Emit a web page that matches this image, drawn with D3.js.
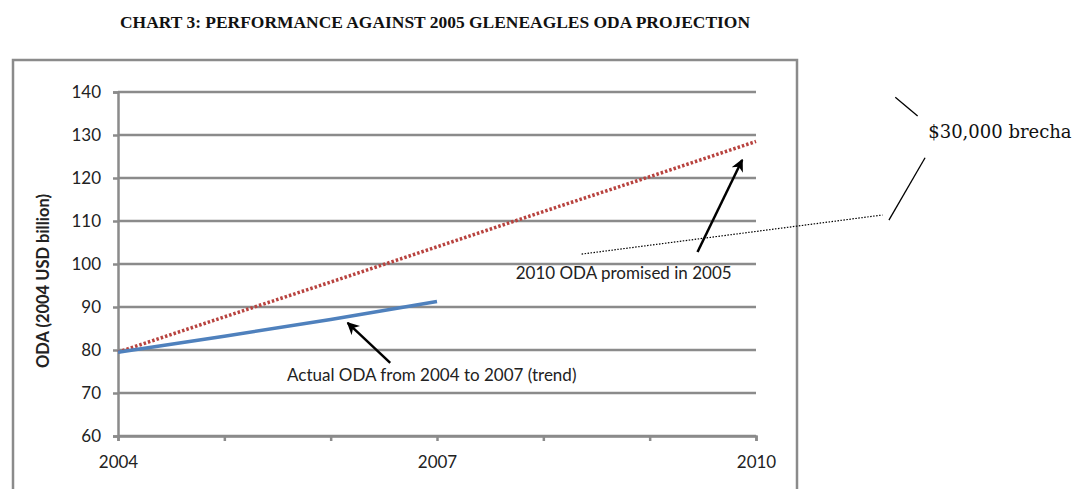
<!DOCTYPE html>
<html>
<head>
<meta charset="utf-8">
<script src="https://cdn.jsdelivr.net/npm/d3@7"></script>
<style>
  body { margin: 0; background: #fff; }
  svg { display: block; }
</style>
</head>
<body>
<svg id="chart" width="1084" height="489"></svg>
<script>
// chart data
const years = [2004, 2005, 2006, 2007, 2008, 2009, 2010];
const actualYears = [2004, 2005, 2006, 2007];
const actualOda = [79.5, 83.2, 87.1, 91.3];
const promisedOda = [79.5, 87.7, 95.8, 104.0, 112.2, 120.3, 128.5];
const yTicks = [60, 70, 80, 90, 100, 110, 120, 130, 140];
const xLabels = [2004, 2007, 2010];

const title = "CHART 3: PERFORMANCE AGAINST 2005 GLENEAGLES ODA PROJECTION";
const yTitle = "ODA (2004 USD billion)";

// annotation positions in data units (year, ODA)
const notes = [
  { text: "Actual ODA from 2004 to 2007 (trend)", x: 2005.59, y: 72.7 },
  { text: "2010 ODA promised in 2005", x: 2007.74, y: 96.6 }
];
const arrows = [
  [[2006.56, 77.0], [2006.16, 86.3]],
  [[2009.45, 102.8], [2009.87, 124.2]]
];
const gapLine = [[2008.36, 102.3], [2011.19, 111.4]];
const braces = [
  [[2011.31, 138.8], [2011.52, 134.4]],
  [[2011.59, 124.7], [2011.25, 110.2]]
];
const gapLabel = { text: "$30,000 brecha", x: 2011.62, y: 129.6 };

const svg = d3.select("#chart");

const x = d3.scaleLinear().domain([2004, 2010]).range([118, 756]);
const y = d3.scaleLinear().domain([60, 140]).range([436, 92]);

const grey = "#8b8b8b";
const sans = "Lato, sans-serif";

// title
svg.append("text")
  .attr("x", 120).attr("y", 28)
  .attr("textLength", 630)
  .attr("lengthAdjust", "spacingAndGlyphs")
  .style("font-family", "'Liberation Serif', serif")
  .style("font-weight", "bold")
  .style("font-size", "16px")
  .attr("fill", "#111")
  .text(title);

// outer chart frame
svg.append("rect")
  .attr("x", 13).attr("y", 60)
  .attr("width", 784).attr("height", 460)
  .attr("fill", "none")
  .attr("stroke", grey)
  .attr("stroke-width", 2.5);

// gridlines
svg.append("g")
  .selectAll("line")
  .data(yTicks)
  .join("line")
  .attr("x1", x(2004)).attr("x2", x(2010))
  .attr("y1", d => y(d)).attr("y2", d => y(d))
  .attr("stroke", grey)
  .attr("stroke-width", 2.5);

// y axis
const yAxis = svg.append("g")
  .attr("transform", `translate(${x(2004)},0)`)
  .call(d3.axisLeft(y).tickValues(yTicks).tickSize(5).tickPadding(12));
yAxis.select(".domain").attr("stroke", grey).attr("stroke-width", 2.5);
yAxis.selectAll(".tick line").attr("stroke", grey).attr("stroke-width", 2.5);
yAxis.selectAll(".tick text")
  .style("font-family", sans)
  .style("font-size", "17px")
  .attr("fill", "#222");

// x axis
const xAxis = svg.append("g")
  .attr("transform", `translate(0,${y(60)})`)
  .call(d3.axisBottom(x).tickValues(years).tickSize(5).tickPadding(15)
    .tickFormat(d => xLabels.includes(d) ? d : ""));
xAxis.select(".domain").attr("stroke", grey).attr("stroke-width", 2.5);
xAxis.selectAll(".tick line").attr("stroke", grey).attr("stroke-width", 2.5);
xAxis.selectAll(".tick text")
  .style("font-family", sans)
  .style("font-size", "17px")
  .attr("fill", "#222");

// y axis title
svg.append("text")
  .attr("transform", "translate(49,281) rotate(-90)")
  .attr("text-anchor", "middle")
  .style("font-family", sans)
  .style("font-weight", "bold")
  .style("font-size", "16.5px")
  .attr("fill", "#222")
  .text(yTitle);

// promised line (dotted red)
svg.append("path")
  .datum(years.map((yr, i) => [yr, promisedOda[i]]))
  .attr("fill", "none")
  .attr("stroke", "#b8433f")
  .attr("stroke-width", 3.5)
  .attr("stroke-dasharray", "2.5,2")
  .attr("d", d3.line().x(d => x(d[0])).y(d => y(d[1])));

// actual trend (blue)
svg.append("path")
  .datum(actualYears.map((yr, i) => [yr, actualOda[i]]))
  .attr("fill", "none")
  .attr("stroke", "#4f81bd")
  .attr("stroke-width", 3.5)
  .attr("d", d3.line().curve(d3.curveMonotoneX).x(d => x(d[0])).y(d => y(d[1])));

// arrowhead
svg.append("defs").append("marker")
  .attr("id", "head")
  .attr("viewBox", "0 0 10 10")
  .attr("refX", 9).attr("refY", 5)
  .attr("markerWidth", 5).attr("markerHeight", 5)
  .attr("orient", "auto")
  .append("path")
  .attr("d", "M0,0 L10,5 L0,10 L3,5 Z")
  .attr("fill", "#000");

svg.append("g")
  .selectAll("line")
  .data(arrows)
  .join("line")
  .attr("x1", d => x(d[0][0])).attr("y1", d => y(d[0][1]))
  .attr("x2", d => x(d[1][0])).attr("y2", d => y(d[1][1]))
  .attr("stroke", "#000")
  .attr("stroke-width", 2.5)
  .attr("marker-end", "url(#head)");

// annotation labels
svg.append("g")
  .selectAll("text")
  .data(notes)
  .join("text")
  .attr("x", d => x(d.x)).attr("y", d => y(d.y))
  .style("font-family", sans)
  .style("font-size", "17px")
  .attr("fill", "#222")
  .text(d => d.text);

// gap marker: dotted line and bracket strokes
svg.append("line")
  .attr("x1", x(gapLine[0][0])).attr("y1", y(gapLine[0][1]))
  .attr("x2", x(gapLine[1][0])).attr("y2", y(gapLine[1][1]))
  .attr("stroke", "#000")
  .attr("stroke-width", 1.2)
  .attr("stroke-dasharray", "1.5,1.5");

svg.append("g")
  .selectAll("line")
  .data(braces)
  .join("line")
  .attr("x1", d => x(d[0][0])).attr("y1", d => y(d[0][1]))
  .attr("x2", d => x(d[1][0])).attr("y2", d => y(d[1][1]))
  .attr("stroke", "#000")
  .attr("stroke-width", 1.3);

svg.append("text")
  .attr("x", x(gapLabel.x)).attr("y", y(gapLabel.y) + 1)
  .style("font-family", "'DejaVu Serif', serif")
  .style("font-size", "18px")
  .attr("fill", "#111")
  .text(gapLabel.text);
</script>
</body>
</html>
